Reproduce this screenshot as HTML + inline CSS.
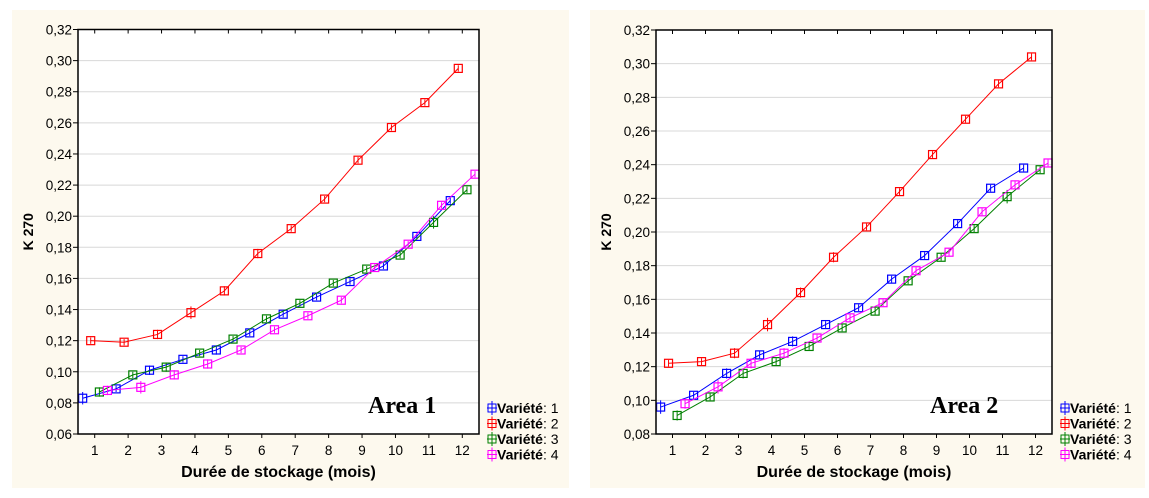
<!DOCTYPE html>
<html><head><meta charset="utf-8"><style>
body{margin:0;background:#fff;width:1149px;height:498px;overflow:hidden;font-family:"Liberation Sans",sans-serif}
svg{display:block}
</style></head><body>
<svg id="s" width="1149" height="498"></svg>
<script>
const months=[1,2,3,4,5,6,7,8,9,10,11,12];
const a1v1=[0.083,0.089,0.101,0.108,0.114,0.125,0.137,0.148,0.158,0.168,0.187,0.210];
const a1v2=[0.120,0.119,0.124,0.138,0.152,0.176,0.192,0.211,0.236,0.257,0.273,0.295];
const a1v3=[0.087,0.098,0.103,0.112,0.121,0.134,0.144,0.157,0.166,0.175,0.196,0.217];
const a1v4=[0.088,0.090,0.098,0.105,0.114,0.127,0.136,0.146,0.167,0.182,0.207,0.227];
const a2v1=[0.096,0.103,0.116,0.127,0.135,0.145,0.155,0.172,0.186,0.205,0.226,0.238];
const a2v2=[0.122,0.123,0.128,0.145,0.164,0.185,0.203,0.224,0.246,0.267,0.288,0.304];
const a2v3=[0.091,0.102,0.116,0.123,0.132,0.143,0.153,0.171,0.185,0.202,0.221,0.237];
const a2v4=[0.098,0.108,0.122,0.128,0.137,0.149,0.158,0.177,0.188,0.212,0.228,0.241];
const errA=[0.004,0.002,0.003,0.002,0.003,0.002,0.002,0.002,0.002,0.002,0.002,0.002];
const errB=[0.002,0.002,0.002,0.003,0.004,0.003,0.003,0.002,0.002,0.002,0.002,0.002];
const yTicks1=[0.06,0.08,0.10,0.12,0.14,0.16,0.18,0.20,0.22,0.24,0.26,0.28,0.30,0.32];
const yTicks2=[0.08,0.10,0.12,0.14,0.16,0.18,0.20,0.22,0.24,0.26,0.28,0.30,0.32];
const colors=['#0000ff','#ff0000','#008000','#ff00ff'];
const offs=[-0.36,-0.12,0.14,0.38];
const NS='http://www.w3.org/2000/svg';
const svg=document.getElementById('s');
function mk(tag,attrs,parent,text){const e=document.createElementNS(NS,tag);for(const k in attrs)e.setAttribute(k,attrs[k]);if(text!==undefined)e.textContent=text;(parent||svg).appendChild(e);return e;}
function panel(P){
 const g=mk('g',{});
 
 
 const bg=mk('rect',{x:P.px,y:10,width:P.pw,height:478,fill:'#fdf9ee'},g);
 
 
 mk('rect',{x:P.L,y:P.T,width:P.R-P.L,height:P.B-P.T,fill:'#fff'},g);
 const y=v=>P.B-(v-P.ymin)/(P.ymax-P.ymin)*(P.B-P.T);
 const x=m=>P.L+(m-0.5)/12*(P.R-P.L);
 P.yt.forEach(t=>{
  if(t>P.ymin&&t<P.ymax){const gl=mk('line',{x1:P.L,x2:P.R,y1:y(t),y2:y(t),stroke:'#d8d8d8'},g);
  
  }
  mk('line',{x1:P.L-5,x2:P.L,y1:y(t),y2:y(t),stroke:'#000'},g);
  const tl=mk('text',{x:P.L-6,y:y(t)+5,'text-anchor':'end','font-size':13.5,fill:'#000'},g,t.toFixed(2).replace('.',','));
  
  
 });
 months.forEach(m=>{
  mk('line',{x1:x(m),x2:x(m),y1:P.B,y2:P.B+4,stroke:'#000'},g);
  mk('line',{x1:x(m),x2:x(m),y1:P.T,y2:P.T+4,stroke:'#000'},g);
  const xl=mk('text',{x:x(m),y:P.B+21,'text-anchor':'middle','font-size':13.5},g,String(m));
  
  
 });
 P.series.forEach((s,i)=>{
  const c=colors[i];
  const pts=s.map((v,j)=>[x(months[j]+offs[i]),y(v)]);
  const ln=mk('polyline',{points:pts.map(p=>p.join(',')).join(' '),fill:'none',stroke:c,'stroke-width':1},g);
  
  
  const err=(i%2?errB:errA);
  pts.forEach((p,j)=>{
   const e=(err[(j+i)%12])*(P.B-P.T)/(P.ymax-P.ymin);
   mk('line',{x1:p[0],x2:p[0],y1:p[1]-e,y2:p[1]+e,stroke:c},g);
   const mkr=mk('rect',{x:p[0]-4,y:p[1]-4,width:8,height:8,fill:'none',stroke:c,'stroke-width':1.2},g);
   
   
  });
 });
 mk('rect',{x:P.L,y:P.T,width:P.R-P.L,height:P.B-P.T,fill:'none',stroke:'#000','stroke-width':1.5},g);
 const yt=mk('text',{x:0,y:0,transform:`translate(${P.px+21},${(P.T+P.B)/2}) rotate(-90)`,'text-anchor':'middle','font-size':14,'font-weight':'bold'},g,'K 270');
 
 
 const xt=mk('text',{x:(P.L+P.R)/2,y:477,'text-anchor':'middle','font-size':16,'font-weight':'bold'},g,'Durée de stockage (mois)');
 
 
 const ar=mk('text',{x:P.areaX,y:413,'font-size':24,'font-weight':'bold','font-family':'Liberation Serif, serif'},g,P.area);
 
 
 for(let i=0;i<4;i++){
  const ly=408+i*15.5;
  const lg=mk('g',{},g);
  
  
  mk('rect',{x:P.R+9,y:ly-4,width:8,height:8,fill:'none',stroke:colors[i]},lg);
  mk('line',{x1:P.R+13,x2:P.R+13,y1:ly-7,y2:ly+7,stroke:colors[i]},lg);
  mk('line',{x1:P.R+8,x2:P.R+18,y1:ly,y2:ly,stroke:colors[i]},lg);
  const t=mk('text',{x:P.R+18,y:ly+5,'font-size':14},lg);
  mk('tspan',{'font-weight':'bold'},t,'Variété');
  mk('tspan',{},t,': '+(i+1));
 }
}
panel({name:'panel-area-1',px:12,pw:557,L:78,R:479,T:29.5,B:434,ymin:0.06,ymax:0.32,yt:yTicks1,series:[a1v1,a1v2,a1v3,a1v4],area:'Area 1',areaX:368});
panel({name:'panel-area-2',px:590,pw:555,L:656,R:1052,T:30,B:434,ymin:0.08,ymax:0.32,yt:yTicks2,series:[a2v1,a2v2,a2v3,a2v4],area:'Area 2',areaX:930});
</script>
</body></html>
